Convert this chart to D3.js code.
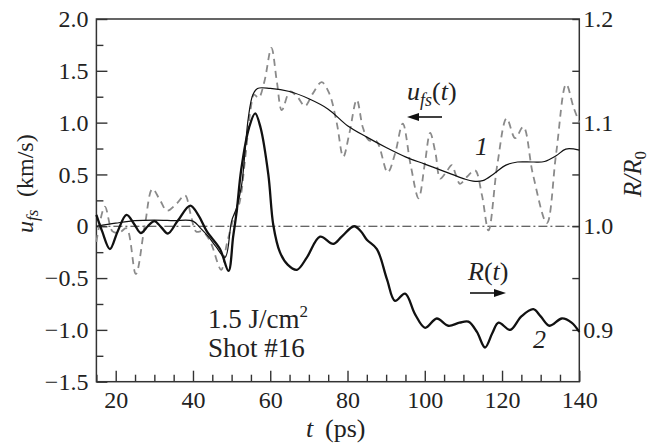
<!DOCTYPE html>
<html>
<head>
<meta charset="utf-8">
<script src="https://cdn.jsdelivr.net/npm/d3@7"></script>
<style>
  body { margin: 0; background: #fff; }
</style>
</head>
<body>
<svg width="650" height="443"></svg>
<script>
// curve 1: smoothed free-surface velocity u_fs (km/s)
const tThin = [15, 20, 25, 30, 35, 40, 42, 44, 46, 48.3, 50, 51.3, 52.6, 54.3, 55.5, 56.7, 60, 65, 70, 75, 80, 85, 90, 95, 100, 105, 110, 112.5, 115, 118, 121, 124, 128, 131, 134, 136.5, 140]
const uThin = [0.0, 0.03, 0.055, 0.06, 0.055, 0.05, -0.02, -0.1, -0.2, -0.3, 0.05, 0.18, 0.4, 1.04, 1.27, 1.33, 1.33, 1.30, 1.23, 1.13, 0.97, 0.86, 0.76, 0.67, 0.6, 0.53, 0.46, 0.435, 0.44, 0.51, 0.59, 0.62, 0.62, 0.625, 0.68, 0.745, 0.735]

// raw u_fs, grey dashed
const tDash = [15, 17.2, 19.2, 21, 22.8, 25.2, 27.5, 29.5, 31.5, 33.3, 35.8, 37.9, 39.5, 40.8, 42.5, 44.5, 47.3, 48.7, 50.3, 52, 53.5, 55, 55.8, 57, 58.5, 60.3, 61.7, 63, 65.1, 67, 69, 71, 73.3, 75.3, 77.2, 78.9, 80.5, 82.4, 84, 85.5, 87.5, 90.4, 92.3, 94.3, 96.3, 98.4, 100, 101.4, 102.8, 104, 105.5, 107, 108, 109.1, 111, 113, 114.8, 116.5, 118.8, 121.2, 123.4, 125.5, 128, 131.6, 134, 136.6, 138.5, 140]
const uDash = [-0.15, 0.19, -0.05, -0.06, -0.02, -0.46, 0.0, 0.36, 0.25, 0.15, 0.22, 0.30, 0.1, -0.05, -0.05, -0.15, -0.42, -0.18, 0.05, 0.22, 0.65, 1.15, 1.27, 1.24, 1.4, 1.72, 1.4, 1.12, 1.30, 1.25, 1.16, 1.28, 1.39, 1.28, 1.0, 0.67, 0.9, 1.22, 0.95, 0.83, 0.82, 0.52, 0.7, 0.99, 0.6, 0.27, 0.6, 0.90, 0.7, 0.46, 0.52, 0.59, 0.5, 0.41, 0.48, 0.54, 0.3, -0.04, 0.6, 1.04, 0.85, 0.96, 0.5, 0.03, 0.7, 1.37, 1.15, 1.0]

// curve 2: reflectivity R/R0 (right axis)
const tThick = [15, 16.5, 18.5, 20.5, 22.8, 24.8, 26.5, 28.3, 30, 31.8, 33.5, 36, 39.3, 41.5, 43.6, 47, 49.2, 50.4, 51.3, 52.5, 54.5, 56.1, 57.5, 59.5, 60.8, 62.5, 64.5, 66.9, 69.5, 72.9, 76.3, 78.5, 81.7, 83.5, 85, 87.6, 90.2, 92.3, 94.9, 97.5, 100.1, 103.1, 106.1, 109, 111.3, 113.5, 115.6, 117.5, 119.1, 122.1, 125, 128.1, 130, 132.3, 135.5, 138, 140]
const rThick = [1.011, 0.995, 0.978, 0.995, 1.011, 1.002, 0.9935, 1.000, 1.005, 0.999, 0.993, 1.005, 1.020, 1.010, 0.995, 0.978, 0.957, 0.990, 1.014, 1.055, 1.095, 1.109, 1.095, 1.050, 1.001, 0.975, 0.963, 0.958, 0.970, 0.990, 0.983, 0.990, 1.000, 0.995, 0.987, 0.978, 0.949, 0.928, 0.935, 0.915, 0.902, 0.911, 0.904, 0.907, 0.908, 0.898, 0.883, 0.897, 0.907, 0.900, 0.913, 0.920, 0.913, 0.904, 0.911, 0.907, 0.898]

const xMajor = [20, 40, 60, 80, 100, 120, 140]
const xMinor = [15, 25, 30, 35, 45, 50, 55, 65, 70, 75, 85, 90, 95, 105, 110, 115, 125, 130, 135]
const yMajor = [-1.5, -1.0, -0.5, 0, 0.5, 1.0, 1.5, 2.0]
const yMinor = [-1.25, -0.75, -0.25, 0.25, 0.75, 1.25, 1.75]
const rLabels = [0.9, 1.0, 1.1, 1.2]
const rMinor = [0.95, 1.05, 1.15]

const
    plotLeft = 96.4,
    plotRight = 579.3,
    plotTop = 19,
    plotBottom = 381.7

let svg = d3.select('svg')

let x = d3.scaleLinear().domain([15, 140]).range([plotLeft, plotRight])
let y = d3.scaleLinear().domain([-1.5, 2.0]).range([plotBottom, plotTop])
let yR = d3.scaleLinear().domain([0.85, 1.2]).range([plotBottom, plotTop])

const fmtY = d => d === 0 ? '0' : d3.format('.1f')(d)

function styleAxis(g) {
    g.select('.domain').remove()
    g.selectAll('line').attr('stroke', '#333').attr('stroke-width', 1.4)
    g.selectAll('text').attr('font-size', 24)
}

// bottom axis
svg.append('g').attr('transform', `translate(0,${plotBottom})`)
    .call(d3.axisBottom(x).tickValues(xMajor).tickSize(-11).tickPadding(9))
    .call(styleAxis)
svg.append('g').attr('transform', `translate(0,${plotBottom})`)
    .call(d3.axisBottom(x).tickValues(xMinor).tickSize(-7).tickFormat(''))
    .call(styleAxis)

// left axis
svg.append('g').attr('transform', `translate(${plotLeft},0)`)
    .call(d3.axisLeft(y).tickValues(yMajor).tickSize(-11).tickPadding(8).tickFormat(fmtY))
    .call(styleAxis)
svg.append('g').attr('transform', `translate(${plotLeft},0)`)
    .call(d3.axisLeft(y).tickValues(yMinor).tickSize(-7).tickFormat(''))
    .call(styleAxis)

// right axis
svg.append('g').attr('transform', `translate(${plotRight},0)`)
    .call(d3.axisRight(yR).tickValues(rLabels).tickSize(-7).tickPadding(4).tickFormat(d3.format('.1f')))
    .call(styleAxis)
svg.append('g').attr('transform', `translate(${plotRight},0)`)
    .call(d3.axisRight(yR).tickValues(rMinor).tickSize(-7).tickFormat(''))
    .call(styleAxis)

// frame
svg.append('rect')
    .attr('x', plotLeft).attr('y', plotTop)
    .attr('width', plotRight - plotLeft).attr('height', plotBottom - plotTop)
    .attr('fill', 'none').attr('stroke', '#333').attr('stroke-width', 1.5)

// zero line (dash-dot)
svg.append('path')
    .datum([15, 140])
    .attr('d', d3.line().x(d => x(d)).y(() => y(0)))
    .attr('fill', 'none').attr('stroke', '#333').attr('stroke-width', 1.1)
    .attr('stroke-dasharray', '9,3,2,3')

const curve = d3.curveCatmullRom.alpha(0.5)

svg.append('path')
    .datum(tDash.map((t, i) => [t, uDash[i]]))
    .attr('d', d3.line().curve(curve).x(d => x(d[0])).y(d => y(d[1])))
    .attr('fill', 'none').attr('stroke', '#8a8a8a').attr('stroke-width', 1.8)
    .attr('stroke-dasharray', '7,5')

svg.append('path')
    .datum(tThin.map((t, i) => [t, uThin[i]]))
    .attr('d', d3.line().curve(curve).x(d => x(d[0])).y(d => y(d[1])))
    .attr('fill', 'none').attr('stroke', '#111').attr('stroke-width', 1.2)

svg.append('path')
    .datum(tThick.map((t, i) => [t, rThick[i]]))
    .attr('d', d3.line().curve(curve).x(d => x(d[0])).y(d => yR(d[1])))
    .attr('fill', 'none').attr('stroke', '#111').attr('stroke-width', 2.3)

// axis titles
let xt = svg.append('text').attr('y', 437).attr('font-size', 26)
xt.append('tspan').attr('x', 306).attr('font-style', 'italic').text('t')
xt.append('tspan').attr('x', 325).text('(ps)')

let yt = svg.append('text').attr('transform', 'translate(33,233) rotate(-90)').attr('font-size', 24)
yt.append('tspan').attr('x', 0).attr('font-style', 'italic').text('u')
yt.append('tspan').attr('font-style', 'italic').attr('font-size', 17).attr('dy', 5).text('fs')
yt.append('tspan').attr('x', 36).attr('dy', -5).text('(km/s)')

let rt = svg.append('text').attr('transform', 'translate(641,197) rotate(-90)').attr('font-size', 25)
rt.append('tspan').attr('font-style', 'italic').text('R/R')
rt.append('tspan').attr('font-size', 17).attr('dy', 5).text('0')

// annotations
let ua = svg.append('text').attr('x', 407).attr('y', 100).attr('font-size', 26)
ua.append('tspan').attr('font-style', 'italic').text('u')
ua.append('tspan').attr('font-style', 'italic').attr('font-size', 18).attr('dy', 6).text('fs')
ua.append('tspan').attr('dy', -6).text('(')
ua.append('tspan').attr('font-style', 'italic').text('t')
ua.append('tspan').text(')')

let ra = svg.append('text').attr('x', 468).attr('y', 280).attr('font-size', 26)
ra.append('tspan').attr('font-style', 'italic').text('R')
ra.append('tspan').text('(')
ra.append('tspan').attr('font-style', 'italic').text('t')
ra.append('tspan').text(')')

svg.append('text').attr('x', 475).attr('y', 155).attr('font-size', 26).attr('font-style', 'italic').text('1')
svg.append('text').attr('x', 533).attr('y', 348).attr('font-size', 26).attr('font-style', 'italic').text('2')

let ja = svg.append('text').attr('x', 208).attr('y', 328).attr('font-size', 27)
ja.append('tspan').text('1.5 J/cm')
ja.append('tspan').attr('font-size', 17).attr('dy', -11).text('2')
svg.append('text').attr('x', 208).attr('y', 357).attr('font-size', 27).text('Shot #16')

// serif face for every text, set inline
svg.selectAll('text').style('font-family', '"Liberation Serif"').style('fill', '#222')

// arrows
function arrow(x1, x2, yy) {
    const dir = Math.sign(x2 - x1)
    svg.append('line')
        .attr('x1', x1).attr('x2', x2 - dir * 8).attr('y1', yy).attr('y2', yy)
        .attr('stroke', '#111').attr('stroke-width', 1.6)
    svg.append('path')
        .attr('d', `M${x2},${yy} L${x2 - dir * 12},${yy - 4} L${x2 - dir * 12},${yy + 4} Z`)
        .attr('fill', '#111')
}
arrow(442, 407, 117)
arrow(470, 506, 293)
</script>
</body>
</html>
